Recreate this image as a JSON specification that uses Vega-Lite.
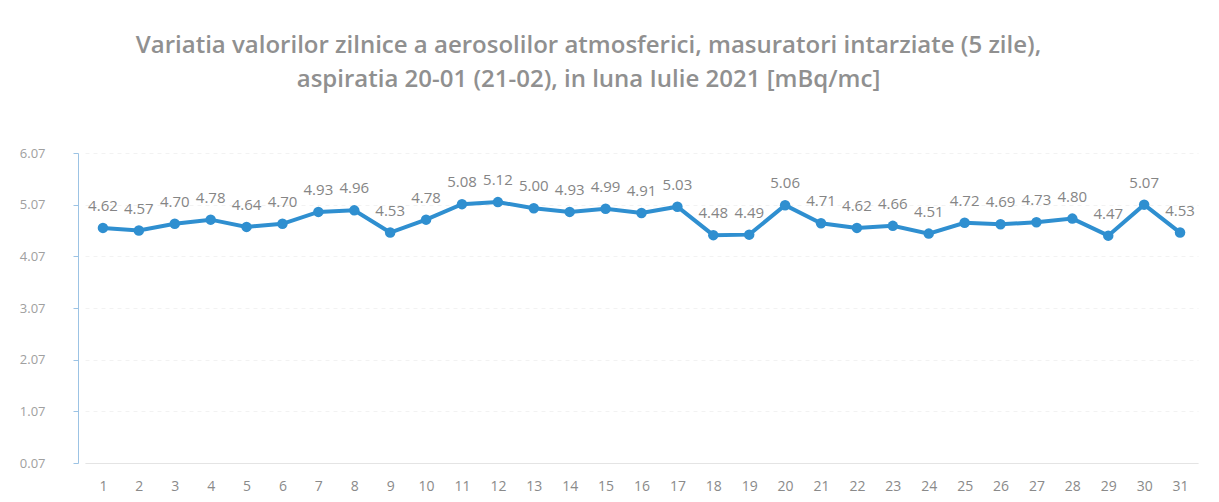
{
  "$schema": "https://vega.github.io/schema/vega-lite/v6.json",
  "autosize": {"type": "none"},
  "width": 1113,
  "height": 310,
  "padding": {"left": 85, "top": 153, "right": 21, "bottom": 39},
  "background": "white",
  "title": {
    "text": ["Variatia valorilor zilnice a aerosolilor atmosferici, masuratori intarziate (5 zile),", "aspiratia 20-01 (21-02),  in luna Iulie 2021 [mBq/mc]"],
    "font": "Open Sans",
    "fontSize": 24,
    "fontWeight": 600,
    "color": "#909090",
    "lineHeight": 34,
    "anchor": "middle",
    "dx": -53,
    "offset": 55
  },
  "data": {
    "values": [
      {"zi": 1, "v": 4.62}, {"zi": 2, "v": 4.57}, {"zi": 3, "v": 4.70}, {"zi": 4, "v": 4.78},
      {"zi": 5, "v": 4.64}, {"zi": 6, "v": 4.70}, {"zi": 7, "v": 4.93}, {"zi": 8, "v": 4.96},
      {"zi": 9, "v": 4.53}, {"zi": 10, "v": 4.78}, {"zi": 11, "v": 5.08}, {"zi": 12, "v": 5.12},
      {"zi": 13, "v": 5.00}, {"zi": 14, "v": 4.93}, {"zi": 15, "v": 4.99}, {"zi": 16, "v": 4.91},
      {"zi": 17, "v": 5.03}, {"zi": 18, "v": 4.48}, {"zi": 19, "v": 4.49}, {"zi": 20, "v": 5.06},
      {"zi": 21, "v": 4.71}, {"zi": 22, "v": 4.62}, {"zi": 23, "v": 4.66}, {"zi": 24, "v": 4.51},
      {"zi": 25, "v": 4.72}, {"zi": 26, "v": 4.69}, {"zi": 27, "v": 4.73}, {"zi": 28, "v": 4.80},
      {"zi": 29, "v": 4.47}, {"zi": 30, "v": 5.07}, {"zi": 31, "v": 4.53}
    ]
  },
  "encoding": {
    "x": {
      "field": "zi", "type": "ordinal", "title": null,
      "scale": {"type": "point", "padding": 0.5},
      "axis": {
        "labelAngle": 0, "labelFont": "Open Sans", "labelFontSize": 14, "labelColor": "#8a8a8a",
        "labelPadding": 16, "ticks": false, "domainColor": "#e4e4e4", "grid": false
      }
    },
    "y": {
      "field": "v", "type": "quantitative", "title": null,
      "scale": {"domain": [0.07, 6.07], "nice": false, "zero": false},
      "axis": {
        "values": [0.07, 1.07, 2.07, 3.07, 4.07, 5.07, 6.07], "format": ".2f",
        "offset": 7, "labelFont": "Open Sans", "labelFontSize": 13, "labelColor": "#a0a0a0",
        "labelPadding": 28, "tickSize": 5, "tickColor": "#9cc3e4", "domainColor": "#9cc3e4",
        "grid": true, "gridColor": "#f2f2f2", "gridDash": [4, 4]
      }
    }
  },
  "layer": [
    {"mark": {"type": "line", "color": "#2f8fd0", "strokeWidth": 4}},
    {"mark": {"type": "point", "filled": true, "opacity": 1, "color": "#2f8fd0", "size": 110}},
    {
      "mark": {"type": "text", "dy": -22, "font": "Open Sans", "fontSize": 15, "color": "#858585"},
      "encoding": {"text": {"field": "v", "type": "quantitative", "format": ".2f"}}
    }
  ],
  "config": {"view": {"stroke": null}}
}
